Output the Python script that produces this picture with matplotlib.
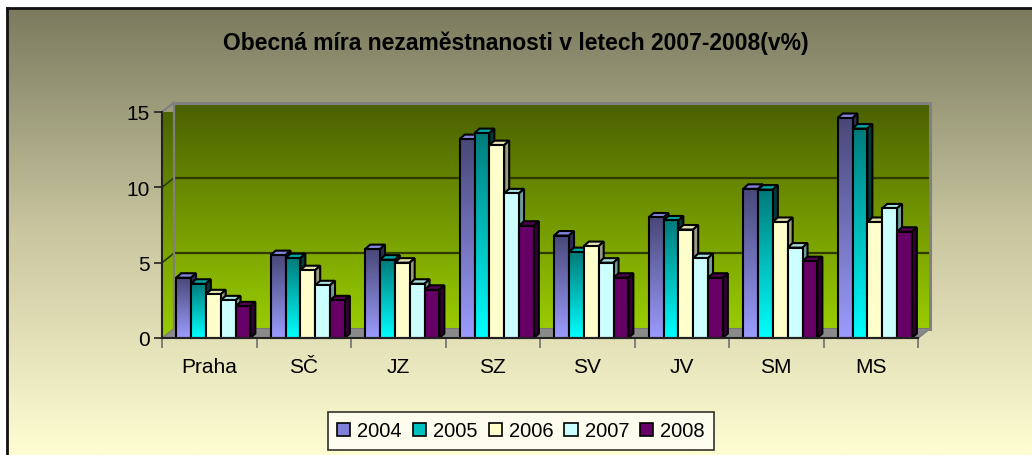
import numpy as np
import matplotlib
matplotlib.use('Agg')
import matplotlib.pyplot as plt
from matplotlib.patches import Polygon
from matplotlib.colors import LinearSegmentedColormap

plt.rcParams['font.family'] = ['Liberation Sans', 'DejaVu Sans']

regions = ['Praha', 'SČ', 'JZ', 'SZ', 'SV', 'JV', 'SM', 'MS']
years = ['2004', '2005', '2006', '2007', '2008']
v2004 = [4.0, 5.5, 5.9, 13.2, 6.8, 8.0, 9.9, 14.6]
v2005 = [3.6, 5.3, 5.2, 13.6, 5.7, 7.8, 9.85, 13.9]
v2006 = [2.9, 4.5, 5.0, 12.8, 6.1, 7.2, 7.7, 7.7]
v2007 = [2.5, 3.5, 3.6, 9.6, 5.0, 5.3, 6.0, 8.6]
v2008 = [2.1, 2.5, 3.2, 7.45, 4.0, 4.0, 5.1, 7.05]
series = [v2004, v2005, v2006, v2007, v2008]

# front, top face, side face, gradient (top, bottom) or None
front_col = ['#8080d8', '#00c0c0', '#ffffcc', '#ccffff', '#660066']
top_col = ['#8484dc', '#00a8a8', '#e2e2b4', '#a8dede', '#560056']
side_col = ['#2c2c55', '#003c3c', '#9c9c82', '#6e9e9e', '#330033']
grads = [('#484878', '#9c9cff'), ('#007a7a', '#00ffff'), None, None, None]

W, H = 1032, 456
fig = plt.figure(figsize=(W / 100, H / 100), dpi=100)
fig.patch.set_facecolor('white')

# chart area background with gradient
bg = fig.add_axes([7 / W, 0, 1 - 7 / W, 1 - 9 / H])
bg_cmap = LinearSegmentedColormap.from_list('bg', ['#7a7a5e', '#c9c6a0', '#fffdd2'])
bg.imshow(np.linspace(0, 1, 256).reshape(-1, 1), aspect='auto', cmap=bg_cmap,
          extent=[0, 1, 0, 1], origin='upper')
bg.set_xticks([])
bg.set_yticks([])
for s in ['right', 'bottom']:
    bg.spines[s].set_visible(False)
for s in ['left', 'top']:
    bg.spines[s].set_color('#111111')
    bg.spines[s].set_linewidth(2)
bg.set_zorder(-5)

x0, x1 = 162, 918
y0, y1 = 339, 113
ax = fig.add_axes([x0 / W, (H - y0) / H, (x1 - x0) / W, (y0 - y1) / H])
ax.set_xlim(0, 8)
ax.set_ylim(0, 15)
ax.patch.set_visible(False)

px_x = 8 / (x1 - x0)
px_y = 15 / (y0 - y1)
dx, dy = 12 * px_x, 9.5 * px_y          # back wall depth
bdx, bdy = 5 * px_x, 4.5 * px_y         # bar depth

# back wall
wall_cmap = LinearSegmentedColormap.from_list('wall', ['#4a5f00', '#99cc00'])
grad = np.linspace(0, 1, 256).reshape(-1, 1)
ax.imshow(grad, aspect='auto', cmap=wall_cmap, origin='upper',
          extent=[dx, 8 + dx, dy, 15 + dy], clip_on=False, zorder=0)
# left side wall
side = Polygon([(0, 0), (dx, dy), (dx, 15 + dy), (0, 15)], closed=True,
               facecolor='none', edgecolor='none', clip_on=False)
ax.add_patch(side)
im = ax.imshow(grad, aspect='auto', cmap=wall_cmap, origin='upper',
               extent=[0, dx, 0, 15 + dy], clip_on=True, zorder=0.5)
im.set_clip_path(side)
# floor
floor = Polygon([(0, 0), (8, 0), (8 + dx, dy), (dx, dy)], closed=True,
                facecolor='#8a8a8a', edgecolor='#777777', lw=0.8,
                clip_on=False, zorder=1)
ax.add_patch(floor)

# grid lines on the wall
for g in [5, 10]:
    ax.plot([dx, 8 + dx], [g + dy, g + dy], color='#2e3a00', lw=1.6, zorder=1.5, clip_on=False)
    ax.plot([0, dx], [g, g + dy], color='#2e3a00', lw=1.2, zorder=1.5, clip_on=False)
ax.plot([0, dx], [15, 15 + dy], color='#808080', lw=1.6, zorder=1.5, clip_on=False)
ax.plot([dx, 8 + dx, 8 + dx], [15 + dy, 15 + dy, dy], color='#808080', lw=2.2,
        zorder=1.5, clip_on=False)
ax.plot([dx, dx], [dy, 15 + dy], color='#808080', lw=1.6, zorder=1.5, clip_on=False)
ax.plot([8, 8 + dx], [0, dy], color='#808080', lw=1.2, zorder=1.5, clip_on=False)

# bars
off, w = 0.15, 0.157
xs = np.arange(len(regions))
for j, vals in enumerate(series):
    z = 3 + j
    bars = ax.bar(xs + off + j * w, vals, width=w, align='edge',
                  color=front_col[j], edgecolor='black', lw=1.5,
                  zorder=z + 0.2, label=years[j], clip_on=False)
    for b, v in zip(bars, vals):
        xl = b.get_x()
        xr = xl + w
        if grads[j] is not None:
            b.set_facecolor('none')
            cm = LinearSegmentedColormap.from_list('g%d' % j, list(grads[j]))
            ax.imshow(grad, aspect='auto', cmap=cm, origin='upper',
                      extent=[xl, xr, 0, v], zorder=z + 0.1, clip_on=False)
        topf = Polygon([(xl, v), (xr, v), (xr + bdx, v + bdy), (xl + bdx, v + bdy)],
                       closed=True, facecolor=top_col[j], edgecolor='black',
                       lw=1.5, zorder=z, clip_on=False)
        sidef = Polygon([(xr, 0), (xr + bdx, bdy), (xr + bdx, v + bdy), (xr, v)],
                        closed=True, facecolor=side_col[j], edgecolor='black',
                        lw=1.5, zorder=z, clip_on=False)
        ax.add_patch(topf)
        ax.add_patch(sidef)

# axes
for s in ['top', 'right']:
    ax.spines[s].set_visible(False)
for s in ['left', 'bottom']:
    ax.spines[s].set_color('#222222')
    ax.spines[s].set_linewidth(1.5)
    ax.spines[s].set_zorder(20)
ax.set_yticks([0, 5, 10, 15])
ax.tick_params(axis='y', length=6, width=1.2, color='#222222', labelsize=15, pad=3)
ax.set_xticks(np.arange(0, 9))
ax.set_xticklabels([])
ax.tick_params(axis='x', which='major', length=7, width=1.2, color='#707070')
ax.set_xticks(xs + 0.5, minor=True)
ax.set_xticklabels(regions, minor=True)
ax.tick_params(axis='x', which='minor', length=0, labelsize=15, pad=14)

fig.text(0.5, (H - 43) / H, 'Obecná míra nezaměstnanosti v letech 2007-2008(v%)',
         ha='center', va='center', fontsize=16.5, fontweight='bold')

handles, labels = ax.get_legend_handles_labels()
leg = fig.legend(handles, labels, loc='center', bbox_to_anchor=(521 / W, (H - 432) / H),
                 ncol=5, fontsize=14.5, frameon=True, fancybox=False,
                 handlelength=0.65, handleheight=0.65, handletextpad=0.35,
                 columnspacing=0.55, borderpad=0.45)
leg.get_frame().set_edgecolor('black')
leg.get_frame().set_facecolor('#fffff6')
leg.get_frame().set_linewidth(1.2)
for h, c in zip(leg.legend_handles, front_col):
    h.set_facecolor(c)
    h.set_edgecolor('black')
    h.set_linewidth(1.2)

fig.savefig('out.png', dpi=100)
